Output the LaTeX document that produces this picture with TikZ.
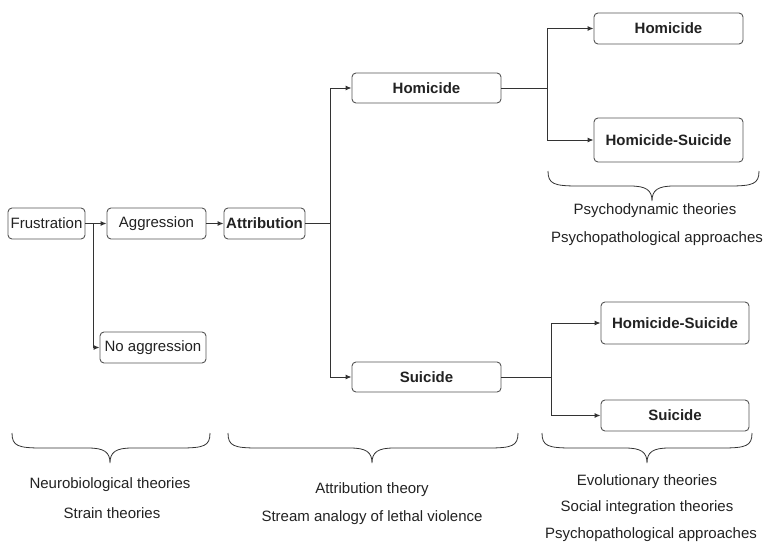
\documentclass[tikz,border=0pt]{standalone}
\usepackage{fontspec}
\setmainfont{Liberation Sans}
\usetikzlibrary{arrows.meta}
\definecolor{ln}{HTML}{333333}
\definecolor{bx}{HTML}{555555}
\definecolor{tx}{HTML}{222222}
\tikzset{
  box/.style={draw=bx, line width=0.9pt, rounded corners=4pt, fill=white, inner sep=0pt, text=tx, font=\fontsize{15}{18}\selectfont},
  bbox/.style={box, font=\fontsize{15}{18}\selectfont\bfseries},
  conn/.style={draw=ln, line width=1pt},
  arr/.style={conn, -{Latex[length=6pt,width=5pt]}},
  brc/.style={draw=ln, line width=0.8pt},
  lab/.style={text=tx, font=\fontsize{15}{18}\selectfont, inner sep=0pt, anchor=center}
}
\newcommand{\mybrace}[4]{% x1, x2, xc, ytop
  \draw[brc] (#1,#4) .. controls (#1,#4+13) and (#1+6,#4+15) .. (#1+30,#4+15) -- (#3-22,#4+15)
    .. controls (#3-6,#4+15) and (#3,#4+19) .. (#3,#4+30)
    .. controls (#3,#4+19) and (#3+6,#4+15) .. (#3+22,#4+15) -- (#2-30,#4+15)
    .. controls (#2-6,#4+15) and (#2,#4+13) .. (#2,#4);}
\begin{document}
\begin{tikzpicture}[x=1pt,y=-1pt]
\useasboundingbox (0,0) rectangle (766,546);
% nodes
\node[box, minimum width=77pt, minimum height=31pt] (fru) at (46.5,223.5) {Frustration};
\node[box, minimum width=99pt, minimum height=31pt] (agg) at (156.5,223.5) {Aggression};
\node[bbox, minimum width=81pt, minimum height=31pt] (att) at (264.5,223.5) {Attribution};
\node[box, minimum width=106pt, minimum height=31pt] (noa) at (153,347.5) {No aggression};
\node[bbox, minimum width=149pt, minimum height=30pt] (hom) at (426.5,88) {Homicide};
\node[bbox, minimum width=149pt, minimum height=30pt] (sui) at (426.5,377) {Suicide};
\node[bbox, minimum width=149pt, minimum height=31pt] (hom2) at (668.5,28.5) {Homicide};
\node[bbox, minimum width=149pt, minimum height=44pt] (hs1) at (668.5,140) {Homicide-Suicide};
\node[bbox, minimum width=148pt, minimum height=42pt] (hs2) at (675,323) {Homicide-Suicide};
\node[bbox, minimum width=148pt, minimum height=31pt] (sui2) at (675,415.5) {Suicide};
% junctions
\coordinate (b1) at (93,223.5);
\coordinate (j1) at (330,223.5);
\coordinate (j2) at (547,88);
\coordinate (j3) at (551,377);
% connectors
\draw[arr] (fru.east) -- (agg.west);
\draw[arr] (b1) |- (noa.west);
\draw[arr] (agg.east) -- (att.west);
\draw[conn] (att.east) -- (j1);
\draw[arr] (j1) |- (hom.west);
\draw[arr] (j1) |- (sui.west);
\draw[conn] (hom.east) -- (j2);
\draw[arr] (j2) |- (hom2.west);
\draw[arr] (j2) |- (hs1.west);
\draw[conn] (sui.east) -- (j3);
\draw[arr] (j3) |- (hs2.west);
\draw[arr] (j3) |- (sui2.west);
% braces
\mybrace{12}{210}{110}{433}
\mybrace{228}{518}{372}{433}
\mybrace{542}{752}{647}{433}
\mybrace{548}{759}{652}{171}
% labels
\node[lab] (l1) at (110,485) {Neurobiological theories};
\node[lab] (l2) at (112,513) {Strain theories};
\node[lab] (l3) at (372,490) {Attribution theory};
\node[lab] (l4) at (372,518) {Stream analogy of lethal violence};
\node[lab] (l5) at (655,211) {Psychodynamic theories};
\node[lab] (l6) at (657,239) {Psychopathological approaches};
\node[lab] (l7) at (647,482) {Evolutionary theories};
\node[lab] (l8) at (647,508) {Social integration theories};
\node[lab] (l9) at (651,535) {Psychopathological approaches};
\end{tikzpicture}
\end{document}
